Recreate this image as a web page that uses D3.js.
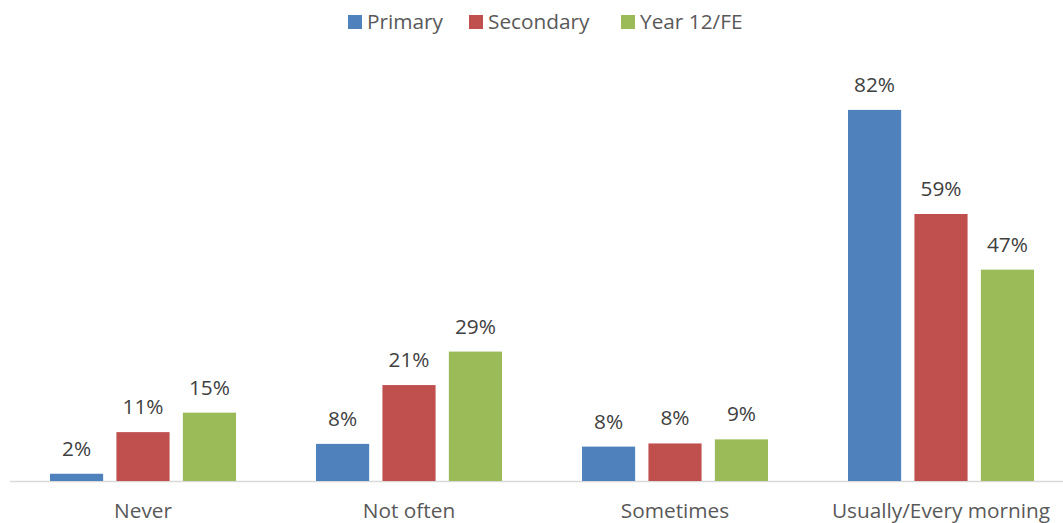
<!DOCTYPE html>
<html><head><meta charset="utf-8">
<script src="https://cdn.jsdelivr.net/npm/d3@7"></script>
<style>
html,body{margin:0;padding:0;background:#fff;}
svg{display:block;font-family:"Open Sans", Lato, sans-serif;}
</style></head>
<body><svg id="c" width="1063" height="523"></svg>
<script>
const categories = ["Never", "Not often", "Sometimes", "Usually/Every morning"];
const seriesNames = ["Primary", "Secondary", "Year 12/FE"];
const seriesColors = ["#4F81BD", "#C0504D", "#9BBB59"];
const primary = [1.6, 8.2, 7.6, 82];
const secondary = [10.8, 21.2, 8.3, 59];
const year12 = [15.1, 28.6, 9.2, 46.7];
const seriesValues = [primary, secondary, year12];

const FONT = "'Open Sans', Lato, sans-serif";
const FS = 20.8;
const svg = d3.select("#c");
const baseY = 481;
const y = d3.scaleLinear().domain([0, 90]).range([baseY, 73.7]);
const x0 = d3.scaleBand().domain(categories).range([10, 1074]).padding(0);
const x1 = d3.scaleBand().domain(seriesNames).range([40, 226]).paddingInner(0.2).paddingOuter(0);

// axis line
svg.append("line").attr("x1", 10).attr("x2", 1063).attr("y1", baseY + 0.5).attr("y2", baseY + 0.5)
  .attr("stroke", "#D9D9D9").attr("stroke-width", 1.5);

const data = [];
categories.forEach((c, i) => seriesNames.forEach((s, j) => data.push({c, s, j, v: seriesValues[j][i]})));

const g = svg.append("g");
g.selectAll("rect").data(data).enter().append("rect")
  .attr("x", d => x0(d.c) + x1(d.s))
  .attr("width", x1.bandwidth())
  .attr("y", d => y(d.v))
  .attr("height", d => baseY - y(d.v))
  .attr("fill", d => seriesColors[d.j]);

g.selectAll("text.val").data(data).enter().append("text").attr("class", "val")
  .attr("x", d => x0(d.c) + x1(d.s) + x1.bandwidth() / 2)
  .attr("y", d => y(d.v) - 18)
  .attr("text-anchor", "middle")
  .attr("font-size", FS)
  .attr("fill", "#404040")
  .text(d => Math.round(d.v) + "%");

// category labels
const xAxis = d3.axisBottom(x0).tickSize(0).tickPadding(0);
const ax = svg.append("g").attr("transform", `translate(0,${baseY})`).call(xAxis);
ax.select(".domain").remove();
ax.selectAll("text").attr("font-size", FS).attr("fill", "#595959")
  .attr("dy", null).attr("y", 36.5).attr("font-family", FONT);

// legend
const legendX = [348, 469, 621];
const lg = svg.append("g");
seriesNames.forEach((s, j) => {
  lg.append("rect").attr("x", legendX[j]).attr("y", 15).attr("width", 14).attr("height", 14).attr("fill", seriesColors[j]);
  lg.append("text").attr("x", legendX[j] + 19).attr("y", 29).attr("font-size", FS).attr("fill", "#595959").text(s);
});
</script></body></html>
